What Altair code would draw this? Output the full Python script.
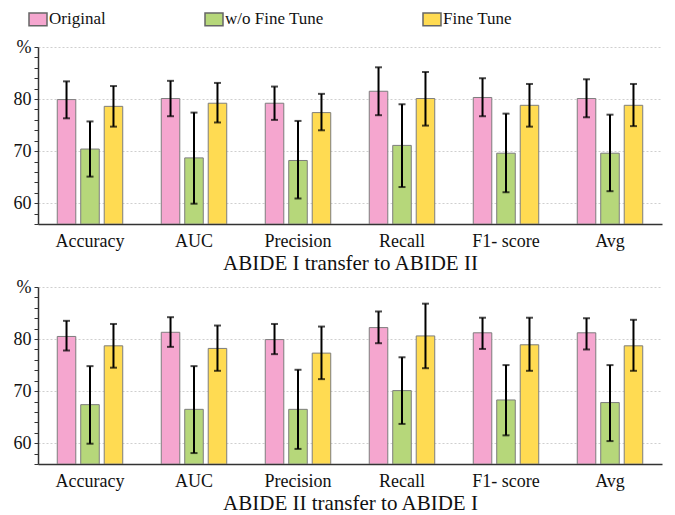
import altair as alt
import pandas as pd

categories = ["Accuracy", "AUC", "Precision", "Recall", "F1- score", "Avg"]
series = ["Original", "w/o Fine Tune", "Fine Tune"]
colors = ["#F5A6CF", "#B6D77A", "#FFDB52"]

# Panel 1: ABIDE I transfer to ABIDE II
p1_orig = [79.9, 80.1, 79.2, 81.5, 80.3, 80.1]
p1_orig_lo = [76.3, 76.7, 76.0, 76.9, 76.7, 76.5]
p1_orig_hi = [83.4, 83.5, 82.4, 86.1, 84.0, 83.8]
p1_wo = [70.4, 68.7, 68.2, 71.1, 69.6, 69.6]
p1_wo_lo = [65.1, 59.9, 60.9, 63.1, 62.1, 62.3]
p1_wo_hi = [75.7, 77.4, 75.8, 79.0, 77.2, 77.0]
p1_ft = [78.6, 79.2, 77.4, 80.1, 78.8, 78.8]
p1_ft_lo = [74.7, 75.5, 74.0, 74.9, 74.7, 74.8]
p1_ft_hi = [82.5, 83.1, 81.0, 85.2, 82.9, 82.9]

# Panel 2: ABIDE II transfer to ABIDE I
p2_orig = [80.5, 81.3, 79.9, 82.2, 81.2, 81.2]
p2_orig_lo = [77.8, 78.5, 77.1, 79.2, 78.1, 78.0]
p2_orig_hi = [83.5, 84.2, 82.9, 85.3, 84.1, 84.0]
p2_wo = [67.4, 66.5, 66.5, 70.1, 68.3, 67.8]
p2_wo_lo = [59.9, 58.1, 58.9, 63.7, 61.5, 60.4]
p2_wo_hi = [74.8, 74.8, 74.1, 76.5, 75.0, 75.0]
p2_ft = [78.7, 78.2, 77.3, 80.6, 78.9, 78.7]
p2_ft_lo = [74.5, 73.9, 72.3, 74.4, 73.9, 73.9]
p2_ft_hi = [82.9, 82.6, 82.4, 86.8, 84.1, 83.7]

titles = ["ABIDE I transfer to ABIDE II", "ABIDE II transfer to ABIDE I"]
y_ticks = list(range(56, 91, 2))
FONT = "Liberation Serif"


def make_df(groups):
    rows = []
    for s, (vals, lo, hi) in zip(series, groups):
        for c, v, l, h in zip(categories, vals, lo, hi):
            rows.append({"category": c, "series": s, "value": v, "lo": l, "hi": h})
    return pd.DataFrame(rows)


df1 = make_df([(p1_orig, p1_orig_lo, p1_orig_hi), (p1_wo, p1_wo_lo, p1_wo_hi), (p1_ft, p1_ft_lo, p1_ft_hi)])
df2 = make_df([(p2_orig, p2_orig_lo, p2_orig_hi), (p2_wo, p2_wo_lo, p2_wo_hi), (p2_ft, p2_ft_lo, p2_ft_hi)])

y_axis = alt.Axis(title=None, values=y_ticks, labelFontSize=18, labelOverlap=False,
                  labelExpr="datum.value == 90 ? '%' : (datum.value % 10 == 0 ? datum.label : '')",
                  tickSize=4, tickColor="#333", labelPadding=3,
                  domainColor="#333", domainWidth=1.5,
                  gridColor="#cfcfcf", gridDash=[2, 2],
                  gridOpacity={"condition": {"test": "datum.value % 10 == 0", "value": 1}, "value": 0})
y_scale = alt.Scale(domain=[56, 90], nice=False, zero=False)


def panel(df, title):
    x = alt.X("category:N", sort=categories,
              scale=alt.Scale(paddingInner=0, paddingOuter=0),
              axis=alt.Axis(title=title, labelAngle=0, ticks=False, labelFontSize=18,
                            labelPadding=8, titleFontSize=21, titlePadding=2,
                            titleFontWeight="normal", domainColor="#333", domainWidth=1.5))
    xo = alt.XOffset("series:N", sort=series,
                     scale=alt.Scale(paddingInner=0.21, paddingOuter=0.82))
    base = alt.Chart(df)
    bars = base.mark_bar(stroke="#7d7d7d", strokeWidth=1, clip=True).encode(
        x=x, xOffset=xo,
        y=alt.Y("value:Q", scale=y_scale, axis=y_axis),
        y2=alt.Y2(datum=56),
        color=alt.Color("series:N", sort=series,
                        scale=alt.Scale(domain=series, range=colors),
                        legend=alt.Legend(title=None)),
    )
    rules = base.mark_rule(color="black", strokeWidth=2).encode(
        x=x, xOffset=xo, y=alt.Y("lo:Q", scale=y_scale, axis=y_axis), y2="hi:Q")
    cap_lo = base.mark_tick(color="black", size=7, thickness=2).encode(
        x=x, xOffset=xo, y=alt.Y("lo:Q", scale=y_scale, axis=y_axis))
    cap_hi = base.mark_tick(color="black", size=7, thickness=2).encode(
        x=x, xOffset=xo, y=alt.Y("hi:Q", scale=y_scale, axis=y_axis))
    return alt.layer(bars, rules, cap_lo, cap_hi).properties(width=624, height=177)


chart = alt.vconcat(panel(df1, titles[0]), panel(df2, titles[1]), spacing=5).configure(
    font=FONT,
).configure_view(stroke=None).configure_axis(
    labelFont=FONT, titleFont=FONT, labelColor="#111", titleColor="#111"
).configure_legend(
    orient="none", legendX=-10, legendY=-38, direction="horizontal", columns=3, columnPadding=96,
    labelFont=FONT, labelFontSize=17, labelColor="#111",
    symbolType="M-1,-0.7L1,-0.7L1,0.7L-1,0.7Z", symbolSize=324,
    symbolStrokeColor="#666", symbolStrokeWidth=1.5, symbolOpacity=1,
    labelOffset=1, padding=0
).properties(padding={"left": 5, "top": 1, "right": 5, "bottom": 5})

chart.save("out.html", embed_options={"renderer": "svg", "actions": False})
